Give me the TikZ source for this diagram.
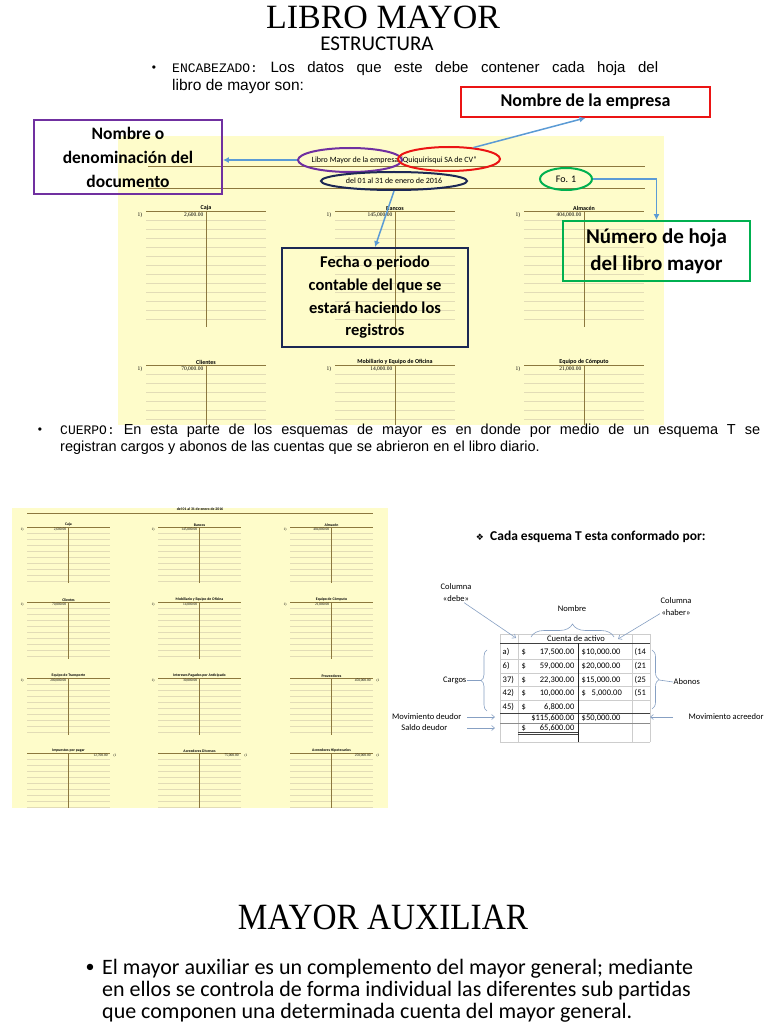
\documentclass[tikz,border=0pt]{standalone}
\usepackage{fontspec}
\setmainfont{Liberation Serif}
\newfontfamily\calibri{Carlito}
\newfontfamily\arial{Liberation Sans}
\newfontfamily\courier{Liberation Mono}
\newfontfamily\simbolos{DejaVu Sans}
\usetikzlibrary{arrows.meta, shapes.geometric, positioning, decorations.pathreplacing}
\definecolor{hoja}{RGB}{254,252,202}
\definecolor{raya}{RGB}{140,120,62}
\definecolor{renglon}{RGB}{226,220,182}
\definecolor{flecha}{RGB}{91,155,213}
\definecolor{morado}{RGB}{112,48,160}
\definecolor{rojo}{RGB}{235,20,20}
\definecolor{marino}{RGB}{28,40,85}
\definecolor{verde}{RGB}{0,176,80}
\definecolor{rejilla}{RGB}{205,205,205}
\definecolor{guiaazul}{RGB}{135,160,195}

% esquema T: #1,#2 inicio de la raya, #3 ancho, #4 renglones, #5 paso, #6 largo, #7 nombre, #8 debe, #9 haber
\newcommand{\tcuenta}[9]{%
  \foreach \k in {1,...,#4}
    \draw[trenglon] (#1,#2+\k*#5) -- ++(#3,0);
  \draw[traya] (#1,#2) -- ++(#3,0);
  \draw[traya] (#1+#3/2,#2) -- ++(0,#6);
  \node[tnombre, anchor=south] at (#1+#3/2,#2) {#7};
  \if\relax\detokenize{#8}\relax\else
    \node[tvalor, anchor=east] at (#1+#3/2-2,#2+#5/2) {#8};
    \node[tvalor, anchor=east] at (#1-3,#2+#5/2) {1)};
  \fi
  \if\relax\detokenize{#9}\relax\else
    \node[tvalor, anchor=east] at (#1+#3-2,#2+#5/2) {#9};
    \node[tvalor, anchor=west] at (#1+#3+3,#2+#5/2) {(1};
  \fi
}

\begin{document}
\begin{tikzpicture}[x=1pt, y=-1pt,
    caja/.style={draw, line width=1.8pt, align=center, inner sep=0pt},
    ovalo/.style={ellipse, draw, line width=2pt, inner sep=0pt},
    llamada/.style={draw=flecha, line width=1.5pt, -{Latex[length=6pt,width=6pt]}},
    guia/.style={draw=guiaazul, line width=0.6pt, -{Straight Barb[length=3pt,width=5pt]}},
    llave/.style={draw=guiaazul, line width=0.6pt, decorate, decoration={brace, amplitude=#1}},
    traya/.style={draw=raya, line width=0.7pt},
    trenglon/.style={draw=renglon, line width=0.4pt},
    tnombre/.style={font=\calibri\bfseries\fontsize{6}{6}\selectfont, inner sep=0.5pt},
    tvalor/.style={font=\fontsize{5.5}{5.5}\selectfont, inner sep=0.5pt},
    celda/.style={font=\calibri\fontsize{8.5}{8.5}\selectfont, inner sep=0.5pt},
    etiqueta/.style={font=\calibri\fontsize{8.5}{12}\selectfont, inner sep=0.5pt}
  ]
  \useasboundingbox[fill=white] (0,0) rectangle (768,1024);

  % titulo y encabezado
  \node[font=\fontsize{34}{34}\selectfont] (titulo) at (383,17) {LIBRO MAYOR};
  \node[font=\calibri\fontsize{21}{21}\selectfont] (estructura) at (377,44) {ESTRUCTURA};
  \node[font=\arial\fontsize{12}{12}\selectfont, anchor=base] (bala1) at (154,72) {•};
  \node[font=\arial\fontsize{15}{18}\selectfont, anchor=base west, inner sep=0pt] (enc1) at (172,73)
    {\makebox[486pt][s]{{\courier\fontsize{13}{18}\selectfont ENCABEZADO:} Los datos que este debe contener cada hoja del}};
  \node[font=\arial\fontsize{15.5}{18}\selectfont, anchor=base west, inner sep=0pt] (enc2) at (172,91) {libro de mayor son:};

  % hoja de arriba
  \fill[hoja] (118,136) rectangle (664,425);
  \draw[traya] (148,166) -- (645,166);
  \draw[traya] (148,188) -- (645,188);
  \node[font=\calibri\fontsize{8}{8}\selectfont, anchor=east, inner sep=0.5pt] (libroTxt) at (399,160) {Libro Mayor de la empresa};
  \node[font=\calibri\fontsize{8}{8}\selectfont, anchor=west, inner sep=0.5pt] (empTxt) at (399,160) {“Quiquirisqui SA de CV”};
  \node[font=\calibri\fontsize{8}{8}\selectfont] (fechaTxt) at (394,181) {del 01 al 31 de enero de 2016};
  \node[font=\calibri\fontsize{10}{10}\selectfont] (foTxt) at (566,179) {Fo. 1};

  \tcuenta{146}{211}{120}{12}{9}{116}{Caja}{2,600.00}{}
  \tcuenta{335}{211}{120}{12}{9}{116}{Bancos}{145,000.00}{}
  \tcuenta{524}{211}{120}{12}{9}{116}{Almacén}{404,000.00}{}
  \tcuenta{146}{365}{120}{6}{9}{60}{Clientes}{70,000.00}{}
  \tcuenta{335}{365}{120}{6}{9}{60}{Mobiliario y Equipo de Oficina}{14,000.00}{}
  \tcuenta{524}{365}{120}{6}{9}{60}{Equipo de Cómputo}{21,000.00}{}

  \node[ovalo, draw=morado, minimum width=104, minimum height=24] (libroEll) at (350,160) {};
  \node[ovalo, draw=rojo, minimum width=102, minimum height=24] (empEll) at (449,159) {};
  \node[ovalo, draw=marino, minimum width=146, minimum height=18] (fechaEll) at (394,181) {};
  \node[ovalo, draw=verde, minimum width=52, minimum height=22] (foEll) at (566,179) {};

  \node[caja, draw=rojo, minimum width=249, minimum height=30, font=\calibri\bfseries\fontsize{18}{22}\selectfont] (empBox) at (585.5,102) {Nombre de la empresa};
  \node[caja, draw=morado, minimum width=188, minimum height=74, font=\calibri\bfseries\fontsize{17.5}{24}\selectfont] (docBox) at (128,157) {Nombre o\\denominación del\\documento};
  \node[caja, draw=marino, minimum width=186, minimum height=99, font=\calibri\bfseries\fontsize{16.5}{22.7}\selectfont] (fechaBox) at (375,297.5) {Fecha o periodo\\contable del que se\\estará haciendo los\\registros};
  \node[caja, draw=verde, minimum width=187, minimum height=60, font=\calibri\bfseries\fontsize{21}{27}\selectfont] (hojaBox) at (656.5,251) {Número de hoja\\del libro mayor};

  \draw[llamada] (libroEll.west) -- (docBox.east |- libroEll.west);
  \draw[llamada] (empEll.25) -- (empBox.south);
  \draw[llamada] (fechaEll.south) -- (fechaBox.north);
  \draw[llamada, line width=1.2pt] (foEll.east) -| (hojaBox.north);

  % cuerpo
  \node[font=\arial\fontsize{12}{12}\selectfont, anchor=base] (bala2) at (40,433) {•};
  \node[font=\arial\fontsize{14.5}{17}\selectfont, anchor=base west, inner sep=0pt] (cue1) at (60,434)
    {\makebox[700pt][s]{{\courier\fontsize{13}{17}\selectfont CUERPO:} En esta parte de los esquemas de mayor es en donde por medio de un esquema T se}};
  \node[font=\arial\fontsize{14.5}{17}\selectfont, anchor=base west, inner sep=0pt] (cue2) at (60,451) {registran cargos y abonos de las cuentas que se abrieron en el libro diario.};

  % hoja de abajo
  \fill[hoja] (12,508) rectangle (388,808);
  \begin{scope}[
      tnombre/.style={font=\calibri\bfseries\fontsize{3.8}{4}\selectfont, inner sep=0.4pt},
      tvalor/.style={font=\fontsize{3.5}{4}\selectfont, inner sep=0.3pt},
      traya/.style={draw=raya, line width=0.6pt},
      trenglon/.style={draw=renglon, line width=0.3pt}]
    \node[tnombre] (fechaChica) at (200,509) {del 01 al 31 de enero de 2016};
    \draw[traya] (27,513) -- (373,513);
    \tcuenta{27}{527}{83}{9}{6}{56}{Caja}{2,600.00}{}
    \tcuenta{158}{527}{83}{9}{6}{56}{Bancos}{145,000.00}{}
    \tcuenta{290}{527}{83}{9}{6}{56}{Almacén}{404,000.00}{}
    \tcuenta{27}{602}{83}{9}{6}{57}{Clientes}{70,000.00}{}
    \tcuenta{158}{602}{83}{9}{6}{57}{Mobiliario y Equipo de Oficina}{14,000.00}{}
    \tcuenta{290}{602}{83}{9}{6}{57}{Equipo de Cómputo}{21,000.00}{}
    \tcuenta{27}{678}{83}{9}{6}{57}{Equipo de Transporte}{200,000.00}{}
    \tcuenta{158}{678}{83}{9}{6}{57}{Intereses Pagados por Anticipado}{30,000.00}{}
    \tcuenta{290}{678}{83}{9}{6}{57}{Proveedores}{}{450,000.00}
    \tcuenta{27}{753}{83}{9}{6}{55}{Impuestos por pagar}{}{12,700.00}
    \tcuenta{158}{753}{83}{9}{6}{55}{Acreedores Diversos}{}{75,000.00}
    \tcuenta{290}{753}{83}{9}{6}{55}{Acreedores Hipotecarios}{}{250,000.00}
  \end{scope}

  % esquema T
  \node[font=\simbolos\fontsize{9}{9}\selectfont, anchor=base] (rombo) at (480,540) {❖};
  \node[font=\calibri\bfseries\fontsize{13.5}{13.5}\selectfont, anchor=base west, inner sep=0pt] (cadaTxt) at (490,540) {Cada esquema T esta conformado por:};

  \foreach \xx in {500,518,632,650}
    \draw[rejilla, line width=0.5pt] (\xx,634) -- (\xx,742);
  \foreach \yy in {634,659.5,673,686.5,700,742}
    \draw[rejilla, line width=0.5pt] (500,\yy) -- (650,\yy);
  \draw[black!75, line width=1pt] (500,643) -- (650,643);
  \draw[black!75, line width=1pt] (500,713) -- (650,713);
  \draw[black!45, line width=1pt] (500,723) -- (650,723);
  \draw[black!75, line width=0.7pt] (518,732) -- (578,732);
  \draw[black!75, line width=0.7pt] (518,734.5) -- (578,734.5);
  \draw[black!85, line width=1pt] (578,643) -- (578,742);

  \node[celda] (cuentaTxt) at (576,638.5) {Cuenta de activo};
  \foreach \yy/\refa/\debe/\haber/\refb in {
      652/{a)}/{17,500.00}/{\$10,000.00}/{(14},
      666/{6)}/{59,000.00}/{\$20,000.00}/{(21},
      680/{37)}/{22,300.00}/{\$15,000.00}/{(25},
      693/{42)}/{10,000.00}/{\$\hphantom{1}\,5,000.00}/{(51},
      707/{45)}/{6,800.00}/{}/{}} {
    \node[celda, anchor=west] at (502,\yy) {\refa};
    \node[celda, anchor=west] at (521,\yy) {\$};
    \node[celda, anchor=east] at (575,\yy) {\debe};
    \node[celda, anchor=west] at (581,\yy) {\haber};
    \node[celda, anchor=west] at (634,\yy) {\refb};
  }
  \node[celda, anchor=east] (movDebe) at (575,718) {\$115,600.00};
  \node[celda, anchor=west] (movHaber) at (581,718) {\$50,000.00};
  \node[celda, anchor=west] (saldoSigno) at (521,728) {\$};
  \node[celda, anchor=east] (saldoValor) at (575,728) {65,600.00};

  \node[etiqueta, align=center] (colDebe) at (456,593) {Columna\\«debe»};
  \node[etiqueta] (nombreLbl) at (572,609) {Nombre};
  \node[etiqueta, align=center] (colHaber) at (676,607) {Columna\\«haber»};
  \node[etiqueta, anchor=east] (cargosLbl) at (467,680) {Cargos};
  \node[etiqueta, anchor=west] (abonosLbl) at (673,682) {Abonos};
  \node[etiqueta, anchor=east] (movDeudor) at (462,717) {Movimiento deudor};
  \node[etiqueta, anchor=east] (saldoDeudor) at (448,728) {Saldo deudor};
  \node[etiqueta, anchor=west] (movAcreedor) at (688,717) {Movimiento acreedor};

  \coordinate (debePt) at (516,638);
  \coordinate (haberPt) at (618,639);
  \coordinate (cargosPt) at (481,680);
  \coordinate (abonosPt) at (659,680);
  \coordinate (movDPt) at (495,717);
  \coordinate (saldoPt) at (495,728);
  \coordinate (movAPt) at (650,717);

  \draw[llave=13pt] (531,637) -- (614,637);
  \draw[llave=6pt] (487,711) -- (487,650);
  \draw[llave=7pt] (652,650) -- (652,709);
  \draw[guia] ([xshift=-8pt]colDebe.south east) -- (debePt);
  \draw[guia] ([yshift=3pt]colHaber.south west) -- (haberPt);
  \draw[draw=guiaazul, line width=0.6pt] (cargosLbl.east) -- (cargosPt);
  \draw[draw=guiaazul, line width=0.6pt] (abonosLbl.west) -- (abonosPt);
  \draw[guia] ([xshift=5pt]movDeudor.east) -- (movDPt);
  \draw[guia] ([xshift=19pt]saldoDeudor.east) -- (saldoPt);
  \draw[guia] ([xshift=-15pt]movAcreedor.west) -- (movAPt);

  % mayor auxiliar
  \node[font=\fontsize{37}{37}\selectfont] (auxTitulo) at (383,917) {\scalebox{0.9}[1]{MAYOR AUXILIAR}};
  \node[font=\calibri\fontsize{18}{18}\selectfont, anchor=base] (bala3) at (90,972) {•};
  \node[font=\calibri\fontsize{22}{24}\selectfont, anchor=base west, inner sep=0pt] (aux1) at (102,974) {El mayor auxiliar es un complemento del mayor general; mediante};
  \node[font=\calibri\fontsize{22}{24}\selectfont, anchor=base west, inner sep=0pt] (aux2) at (102,996.5) {en ellos se controla de forma individual las diferentes sub partidas};
  \node[font=\calibri\fontsize{22}{24}\selectfont, anchor=base west, inner sep=0pt] (aux3) at (102,1018.5) {que componen una determinada cuenta del mayor general.};
\end{tikzpicture}
\end{document}
